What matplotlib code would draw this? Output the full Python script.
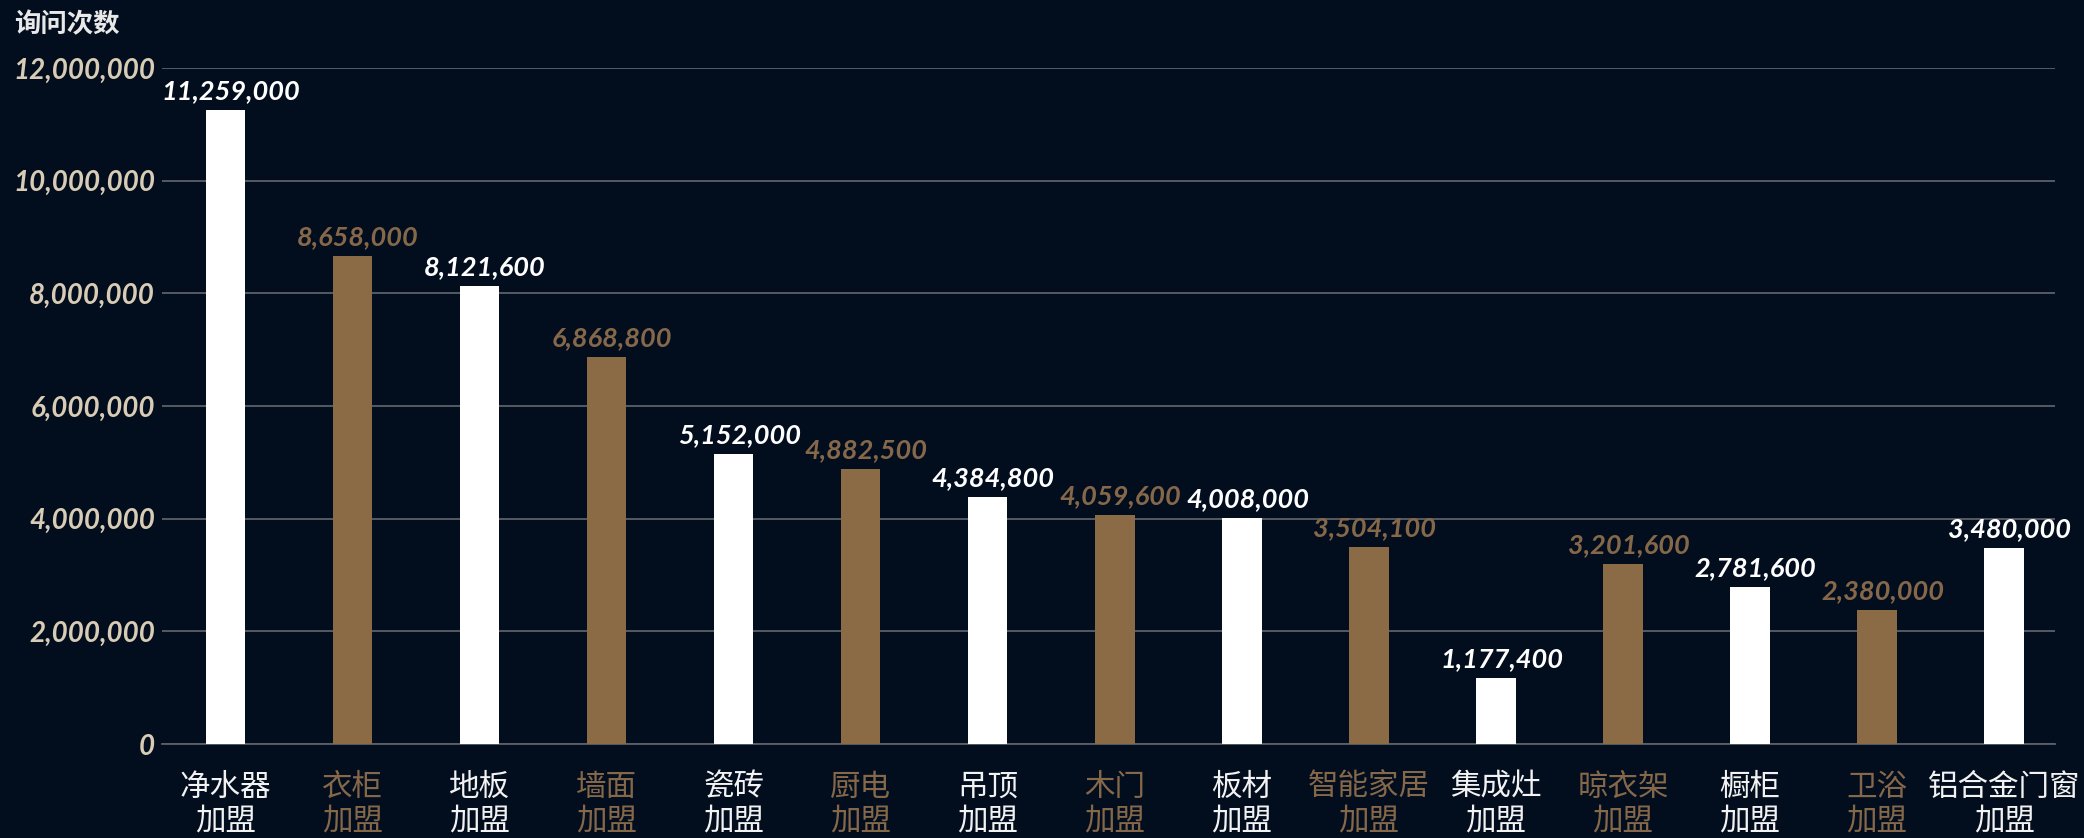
import matplotlib

matplotlib.use("Agg")
import matplotlib.pyplot as plt
from matplotlib.ticker import FuncFormatter

# data
categories = ["净水器", "衣柜", "地板", "墙面", "瓷砖", "厨电", "吊顶", "木门",
              "板材", "智能家居", "集成灶", "晾衣架", "橱柜", "卫浴", "铝合金门窗"]
suffix = "加盟"
values = [11259000, 8658000, 8121600, 6868800, 5152000, 4882500, 4384800, 4059600,
          4008000, 3504100, 1177400, 3201600, 2781600, 2380000, 3480000]
y_ticks = [0, 2000000, 4000000, 6000000, 8000000, 10000000, 12000000]
y_title = "询问次数"

BG = "#020d1d"
WHITE = "#ffffff"
BROWN = "#8b6b45"
BROWN_TXT = "#85684a"
TICK_TXT = "#d8ccb6"
GRID = "#5b6068"
NUM_FONT = ["Lato", "DejaVu Sans"]
CJK_FONT = ["Noto Sans CJK SC", "DejaVu Sans"]

bar_colors = [WHITE if i % 2 == 0 else BROWN for i in range(len(values))]
text_colors = [WHITE if i % 2 == 0 else BROWN_TXT for i in range(len(values))]

fig = plt.figure(figsize=(20.84, 8.38), dpi=100, facecolor=BG)
ax = fig.add_axes([162 / 2084, 1 - 744 / 838, (2055 - 162) / 2084, (744 - 68) / 838])
ax.set_facecolor(BG)

x = list(range(len(values)))
ax.bar(x, values, width=0.31, color=bar_colors, zorder=3)

for i, v in enumerate(values):
    ax.annotate(f"{v:,}", (i, v), xytext=(4, 5), textcoords="offset points",
                ha="center", va="bottom", fontsize=19.5, fontweight="bold",
                fontstyle="italic", family=NUM_FONT, color=text_colors[i],
                clip_on=False, zorder=4)

ax.set_xlim(-0.5, len(values) - 1 + 0.4)
ax.set_ylim(0, 12000000)
ax.set_yticks(y_ticks)
ax.yaxis.set_major_formatter(FuncFormatter(lambda v, _: f"{int(v):,}"))
ax.grid(axis="y", color=GRID, linewidth=1.3, zorder=0)
ax.tick_params(axis="y", length=0, pad=5, labelcolor=TICK_TXT, labelsize=20)
for lbl in ax.get_yticklabels():
    lbl.set_family(NUM_FONT)
    lbl.set_fontweight("bold")
    lbl.set_fontstyle("italic")

ax.set_xticks(x)
ax.set_xticklabels([f"{c}\n{suffix}" for c in categories], family=CJK_FONT,
                   fontsize=22, fontweight="light", linespacing=1.1)
ax.tick_params(axis="x", length=0, pad=20)
for lbl, c in zip(ax.get_xticklabels(), text_colors):
    lbl.set_color(c if c != WHITE else "#f2f2f2")

for s in ["top", "right", "left"]:
    ax.spines[s].set_visible(False)
ax.spines["bottom"].set_color(GRID)
ax.spines["bottom"].set_linewidth(1.3)

fig.text(14 / 2084, 1 - 25 / 838, y_title, family=CJK_FONT, fontsize=19,
         fontweight="bold", color="#e8e8e8", ha="left", va="center")

fig.savefig("out.png", dpi=100, facecolor=BG)
